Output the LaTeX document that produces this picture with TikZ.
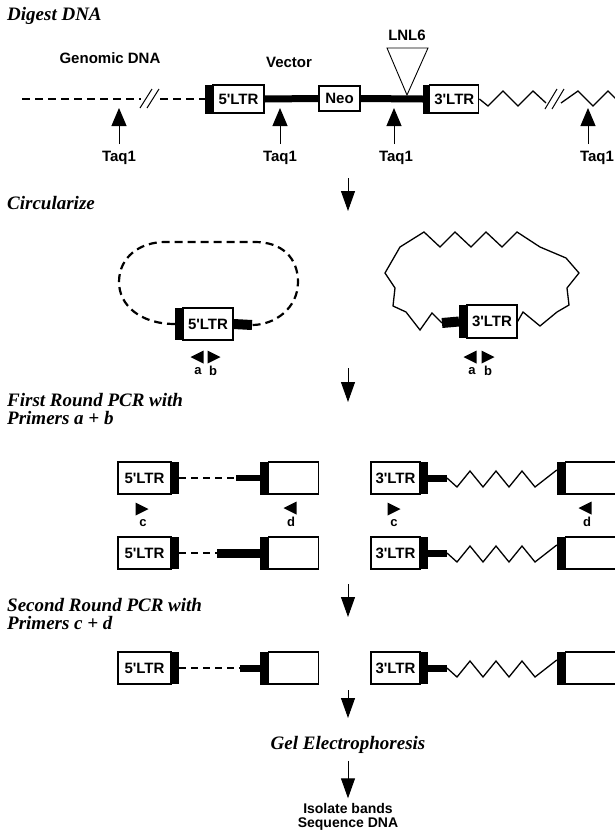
\documentclass[tikz,border=0pt]{standalone}
\usepackage{fontspec}
\setmainfont{Liberation Serif}
\setsansfont{Liberation Sans}
\usetikzlibrary{arrows.meta}
\tikzset{
  ttl/.style={font=\fontsize{19}{18}\selectfont\bfseries\itshape, inner sep=0pt},
  lbl/.style={font=\sffamily\bfseries\fontsize{15}{15}\selectfont, inner sep=0pt},
  plbl/.style={font=\sffamily\bfseries\fontsize{13}{13}\selectfont, inner sep=0pt},
  box/.style={draw, line width=1.2pt, fill=white, inner sep=0pt, font=\sffamily\bfseries\fontsize{15}{15}\selectfont},
  bar/.style={fill=black, draw=none, inner sep=0pt},
  thk/.style={line width=7pt},
  dsh/.style={line width=2.2pt, dash pattern=on 8pt off 5pt},
  zz/.style={line width=1.3pt, line join=miter},
  darr/.style={line width=1pt, -{Triangle[length=20pt,width=14pt]}},
  uarr/.style={line width=1pt, -{Triangle[length=18pt,width=15pt]}},
  brk/.style={line width=1pt}
}
\newcommand\primL[2]{\fill ({#1-6.5},#2) -- ({#1+6.5},{#2-6.5}) -- ({#1+6.5},{#2+6.5}) -- cycle;}
\newcommand\primR[2]{\fill ({#1+6.5},#2) -- ({#1-6.5},{#2-6.5}) -- ({#1-6.5},{#2+6.5}) -- cycle;}
\newcommand\LTR[1]{#1\textquotesingle LTR}
\begin{document}
\begin{tikzpicture}[x=1pt,y=-1pt]
\useasboundingbox (0,0) rectangle (614,836);

% ---------------- titles ----------------
\node[ttl,anchor=west] (tdig) at (7,16) {Digest DNA};
\node[ttl,anchor=west] (tcirc) at (7,203) {Circularize};
\node[ttl,anchor=west,align=left] (tfirst) at (7,409) {First Round PCR with\\Primers a + b};
\node[ttl,anchor=west,align=left] (tsecond) at (7,614) {Second Round PCR with\\Primers c + d};
\node[ttl] (tgel) at (348,745) {Gel Electrophoresis};
\node[lbl,align=center,font=\sffamily\bfseries\fontsize{14}{14}\selectfont] (tiso) at (348,817) {Isolate bands\\Sequence DNA};

% ---------------- digest row ----------------
\node[lbl] (gen) at (110,58) {Genomic DNA};
\node[lbl] (vec) at (289,62) {Vector};
\node[lbl] (lnl) at (407,35) {LNL6};

\coordinate (gstart) at (22,99);
\coordinate (gb1) at (141,99);
\coordinate (gb2) at (160,99);
\draw[dsh] (gstart) -- (gb1);
\draw[brk] (140,108) -- (152,89);
\draw[brk] (147,108) -- (159,89);

\node[box,minimum width=51,minimum height=28] (b5) at (238.5,99) {\LTR{5}};
\node[bar,minimum width=7,minimum height=29,anchor=east] (b5bar) at (b5.west) {};
\draw[dsh] (gb2) -- (b5bar.west);
\node[box,minimum width=41,minimum height=25] (neo) at (339.5,98.5) {Neo};
\node[bar,minimum width=6,minimum height=29] (b3bar) at (426,99) {};
\node[box,minimum width=49,minimum height=28,anchor=west] (b3) at (b3bar.east) {\LTR{3}};
\draw[thk] (b5.east) -- (neo.west);
\draw[thk] (neo.east) -- (b3bar.west);
\draw[line width=0.9pt, fill=white] (387,48) -- (428,48) -- (407,95) -- cycle;

\draw[zz] (b3.east) -- (488,106) -- (503,91) -- (518,106) -- (533,91) -- (546,103);
\draw[brk] (545,109) -- (557,89);
\draw[brk] (552,109) -- (564,89);
\draw[zz] (561,103) -- (578,91) -- (593,106) -- (608,91) -- (616,99);

\node[lbl] (tq1) at (119,158) {Taq1};
\node[lbl] (tq2) at (280,158) {Taq1};
\node[lbl] (tq3) at (396,158) {Taq1};
\node[lbl] (tq4) at (597,158) {Taq1};
\coordinate (tq1t) at (119,108);
\coordinate (tq2t) at (280,108);
\coordinate (tq3t) at (394,108);
\coordinate (tq4t) at (588,108);
\draw[uarr] ([yshift=7pt]tq1.north) -- (tq1t);
\draw[uarr] ([yshift=7pt]tq2.north) -- (tq2t);
\draw[uarr] ([yshift=7pt,xshift=-2pt]tq3.north) -- (tq3t);
\draw[uarr] ([yshift=7pt,xshift=-9pt]tq4.north) -- (tq4t);

% ---------------- arrows down the middle ----------------
\coordinate (d1s) at (348,178); \coordinate (d1e) at (348,211);
\coordinate (d2s) at (348,368); \coordinate (d2e) at (348,402);
\coordinate (d3s) at (348,584); \coordinate (d3e) at (348,617);
\coordinate (d4s) at (348,690); \coordinate (d4e) at (348,718);
\draw[darr] (d1s) -- (d1e);
\draw[darr] (d2s) -- (d2e);
\draw[darr] (d3s) -- (d3e);
\draw[darr] (d4s) -- (d4e);
\draw[darr] ([yshift=-7pt]tgel.south) -- ([yshift=5pt]tiso.north);

% ---------------- circularized ----------------
\node[box,minimum width=50,minimum height=32] (c5) at (208,324) {\LTR{5}};
\node[bar,minimum width=7,minimum height=32,anchor=east] (c5bar) at (c5.west) {};
\coordinate (c5stub) at (252,325);
\draw[line width=10pt] (c5.east) -- (c5stub);
\draw[dsh] (c5bar.west) .. controls (140,324) and (119,305) .. (119,282)
  .. controls (119,257) and (140,242) .. (165,242) -- (255,242)
  .. controls (282,242) and (298,258) .. (298,282)
  .. controls (298,308) and (275,325) .. (c5stub);

\node[box,minimum width=50,minimum height=33] (c3) at (492,321.5) {\LTR{3}};
\node[bar,minimum width=7,minimum height=33,anchor=east] (c3bar) at (c3.west) {};
\coordinate (c3stub) at (442,323);
\draw[line width=10pt] (c3bar.west) -- (c3stub);
\draw[zz] (c3stub) -- (432,313) -- (420,330) -- (406,312) -- (393,306) -- (395,288)
  -- (385,273) -- (400,247) -- (424,232) -- (440,247) -- (455,232) -- (471,247)
  -- (486,232) -- (502,247) -- (517,232) -- (540,247) -- (566,258) -- (579,273)
  -- (567,288) -- (569,305) -- (557,312) -- (540,326) -- (523,312) -- (c3.east);

\primL{197}{357} \primR{214}{357}
\node[plbl] (pa1) at (198,371) {a};
\node[plbl] (pb1) at (213,371) {b};
\primL{470}{357} \primR{488}{357}
\node[plbl] (pa2) at (472,371) {a};
\node[plbl] (pb2) at (488,371) {b};

% ---------------- PCR products ----------------
\foreach \r/\yy/\ss/\sw in {A/478/236/6, B/553/217/9, C/668/240/7} {
  \node[box,minimum width=53,minimum height=32] (p5\r) at (144.5,\yy) {\LTR{5}};
  \node[bar,minimum width=7,minimum height=32,anchor=west] (p5b\r) at (p5\r.east) {};
  \node[bar,minimum width=8,minimum height=33] (pbar\r) at (264,\yy) {};
  \node[box,minimum width=50,minimum height=32,anchor=west] (pbox\r) at (pbar\r.east) {};
  \coordinate (ps\r) at (\ss,\yy);
  \draw[line width=2.2pt, dash pattern=on 7pt off 5pt] (p5b\r.east) -- (ps\r);
  \draw[line width=\sw pt] (ps\r) -- (pbar\r.west);
  \node[box,minimum width=49,minimum height=32] (q3\r) at (395.5,\yy) {\LTR{3}};
  \node[bar,minimum width=7,minimum height=32,anchor=west] (q3b\r) at (q3\r.east) {};
  \node[bar,minimum width=8,minimum height=33] (qbar\r) at (561,\yy) {};
  \node[box,minimum width=60,minimum height=32,anchor=west] (qbox\r) at (qbar\r.east) {};
  \coordinate (qs\r) at (447,\yy);
  \draw[line width=7pt] (q3b\r.east) -- (qs\r);
  \draw[zz] (qs\r) -- (457,\yy+9) -- (470,\yy-7) -- (483,\yy+9) -- (496,\yy-7)
     -- (509,\yy+9) -- (522,\yy-7) -- (535,\yy+9) -- ([yshift=8pt]qbar\r.west);
}

\primR{142}{509} \primL{290}{508}
\node[plbl] (pc1) at (143,523) {c};
\node[plbl] (pd1) at (291,522) {d};
\primR{394}{509} \primL{585}{508}
\node[plbl] (pc2) at (394,523) {c};
\node[plbl] (pd2) at (587,522) {d};
\end{tikzpicture}
\end{document}
